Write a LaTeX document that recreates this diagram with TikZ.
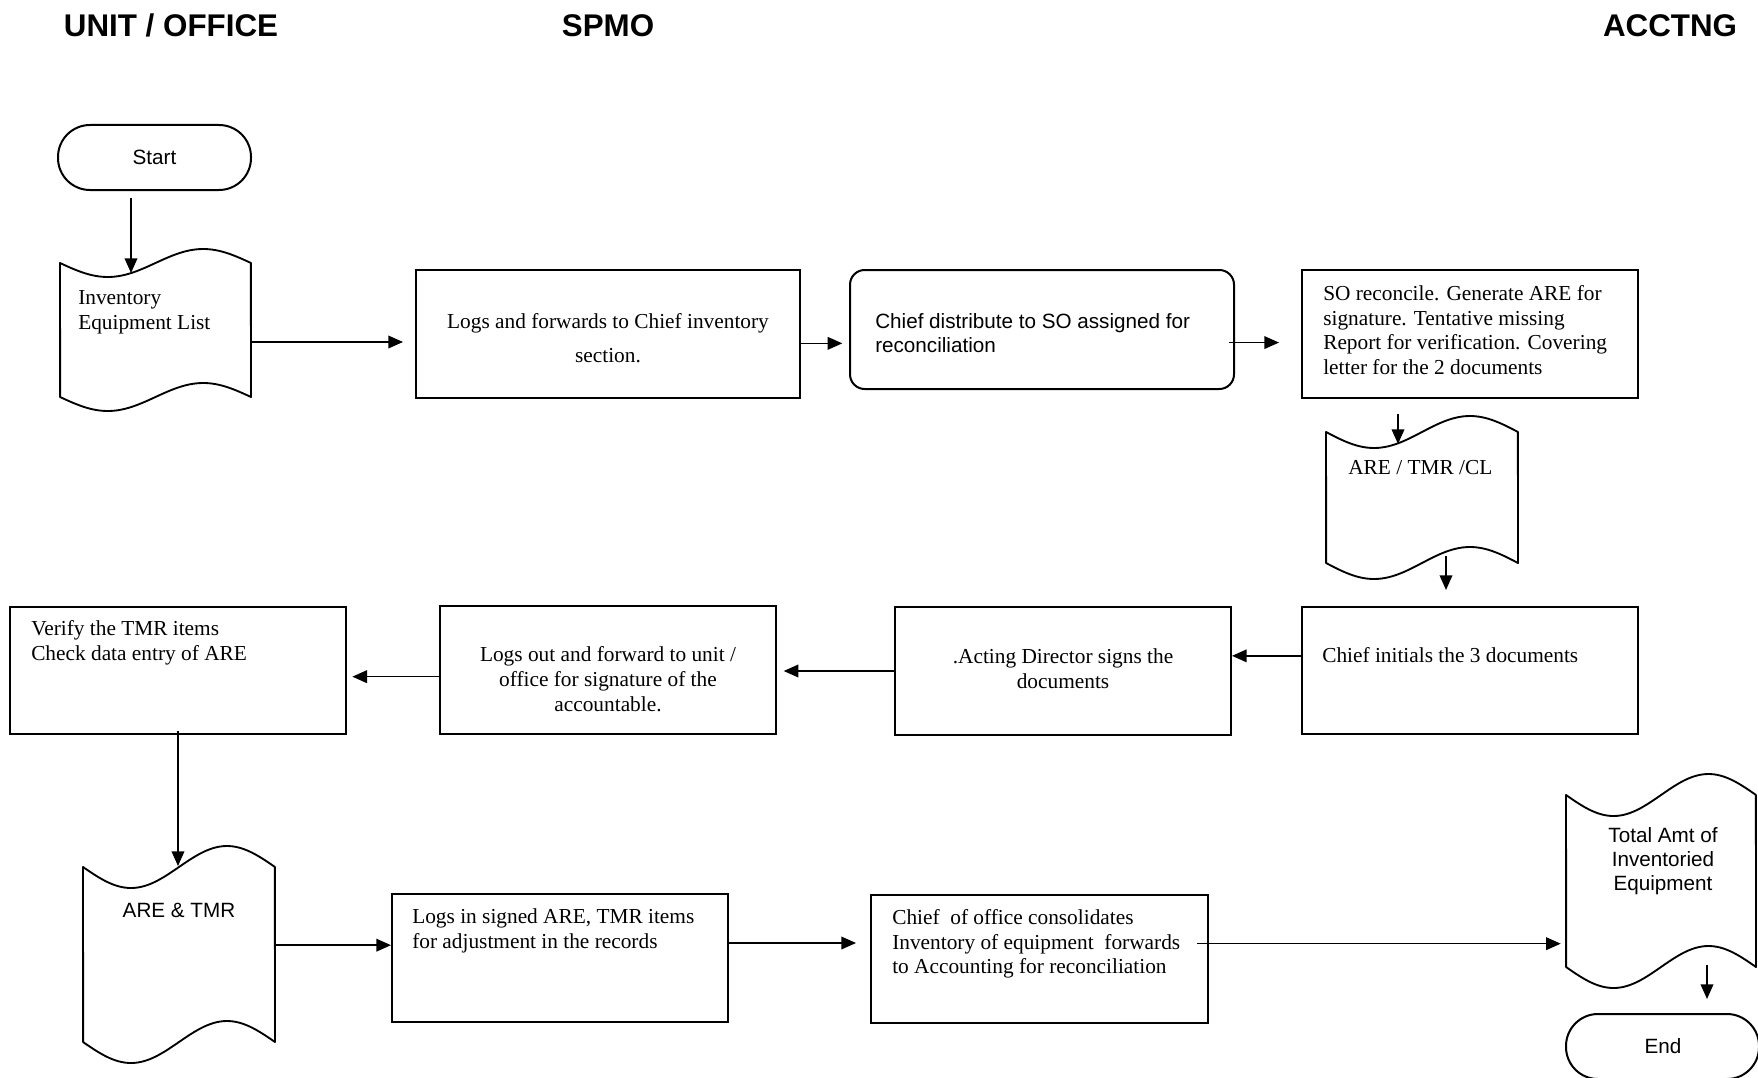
\documentclass[tikz,border=0pt]{standalone}
\usepackage{fontspec}
\setmainfont{Liberation Serif}
\newfontfamily\arialf{Liberation Sans}
\usetikzlibrary{arrows.meta,fit}

% punched-tape document shape: name, L, T, R, B, amplitude
\newcommand{\tapedoc}[6]{%
  \node[inner sep=0, fit={(#2,#3)(#4,#5)}] (#1) {};
  \draw[docline] plot[domain=0:1,samples=60] ({#2+(#4-#2)*\x},{#3+#6*sin(360*\x)})
     -- plot[domain=1:0,samples=60] ({#2+(#4-#2)*\x},{#5+#6*sin(360*\x)}) -- cycle;
}

\begin{document}
\begin{tikzpicture}[x=0.75pt,y=-0.75pt,
  box/.style={draw, line width=1.5pt, inner sep=0},
  rbox/.style={box, rounded corners=11pt},
  term/.style={draw, line width=1.5pt, inner sep=0, rounded corners=24pt},
  docline/.style={line width=1.4pt, line join=round},
  arr/.style={line width=1.1pt, -{Triangle[length=11pt,width=9.5pt]}},
  ser/.style={font=\fontsize{16}{18.5}\selectfont, inner sep=0},
  san/.style={font=\arialf\fontsize{15.5}{17.8}\selectfont, inner sep=0},
  hdr/.style={font=\arialf\bfseries\fontsize{23.5}{28}\selectfont, inner sep=0, anchor=base}
]
\useasboundingbox (0,0) rectangle (1758,1077);
\clip (0,0) rectangle (1758,1077);

% headers
\node[hdr] (h1) at (171,37) {UNIT / OFFICE};
\node[hdr] (h2) at (608,37) {SPMO};
\node[hdr] (h3) at (1670,37) {ACCTNG};

% row 1
\node[term, fit={(58,125)(251,190)}] (start) {};
\node[san] (startt) at (start.center) {Start};

\tapedoc{inv}{60}{263}{251}{397}{14}
\node[ser, anchor=west, align=left] (invt) at (78,312) {Inventory\\Equipment List};

\node[box, fit={(416,270)(800,398)}] (b1) {};
\node[ser, align=center, font=\fontsize{16}{25.5}\selectfont] (b1t) at (608,338) {Logs and forwards to Chief inventory\\section.};

\node[rbox, fit={(850,270)(1234,389)}] (b2) {};
\node[san, anchor=west, align=left] (b2t) at (875,333) {Chief distribute to SO assigned for\\reconciliation};

\node[box, fit={(1302,270)(1638,398)}] (b3) {};
\node[ser, anchor=west, align=left] (b3t) at (1323,330) {SO reconcile. Generate ARE for\\signature. Tentative missing\\Report for verification. Covering\\letter for the 2 documents};

\tapedoc{d2}{1326}{432}{1518}{563}{16}
\node[ser, anchor=west] (d2t) at (1348,468) {ARE / TMR /CL};

% row 2
\node[box, fit={(1302,607)(1638,734)}] (b4) {};
\node[ser, anchor=west] (b4t) at (1322,655) {Chief initials the 3 documents};

\node[box, fit={(895,607)(1231,735)}] (b5) {};
\node[ser, align=center] (b5t) at (1063,669) {.Acting Director signs the\\documents};

\node[box, fit={(440,606)(776,734)}] (b6) {};
\node[ser, align=center] (b6t) at (608,679) {Logs out and forward to unit /\\office for signature of the\\accountable.};

\node[box, fit={(10,607)(346,734)}] (b7) {};
\node[ser, anchor=west, align=left] (b7t) at (31,643) {Verify the TMR items\\Check data entry of ARE};

% row 3
\tapedoc{d3}{83}{867}{275}{1042}{21}
\node[san] (d3t) at (179,910) {ARE \& TMR};

\node[box, fit={(392,894)(728,1022)}] (b8) {};
\node[ser, anchor=west, align=left] (b8t) at (412,931) {Logs in signed ARE, TMR items\\for adjustment in the records};

\node[box, fit={(871,895)(1208,1023)}] (b9) {};
\node[ser, anchor=west, align=left] (b9t) at (892,944) {Chief\ \ of office consolidates\\Inventory of equipment\ \ forwards\\to Accounting for reconciliation};

\tapedoc{d4}{1566}{795}{1756}{967}{21}
\node[san, align=center] (d4t) at (1663,861) {Total Amt of\\Inventoried\\Equipment};

\node[term, fit={(1566,1014)(1759,1079)}] (end) {};
\node[san] (endt) at (1663,1046) {End};

% named connector ends
\coordinate (invin) at (131,273);
\coordinate (d2in) at (1398,444);
\coordinate (d2out) at (1446,556);
\coordinate (d3in) at (178,866);
\coordinate (d4out) at (1707,965);

% connectors
\draw[arr, shorten <=5pt] (start.south -| invin) -- (invin);
\draw[arr, shorten >=9pt] ([yshift=-9pt]inv.east) -- ([yshift=-9pt]inv.east -| b1.west);
\draw[arr, shorten >=5pt] ([yshift=-7pt]b1.east) -- ([yshift=-7pt]b1.east -| b2.west);
\draw[arr, shorten <=-4.5pt, shorten >=16.5pt] ([yshift=-9.8pt]b2.east) -- ([yshift=-9.8pt]b2.east -| b3.west);
\draw[arr, shorten <=11pt] (b3.south -| d2in) -- (d2in);
\draw[arr, shorten >=12pt] (d2out) -- (d2out |- b4.north);
\draw[arr] ([yshift=11pt]b4.west) -- ([yshift=11pt]b4.west -| b5.east);
\draw[arr, shorten >=5pt] (b5.west) -- (b5.west -| b6.east);
\draw[arr, shorten >=4pt] ([yshift=-5pt]b6.west) -- ([yshift=-5pt]b6.west -| b7.east);
\draw[arr, shorten <=-3pt] (b7.south -| d3in) -- (d3in);
\draw[arr] ([yshift=7pt]d3.east) -- ([yshift=7pt]d3.east -| b8.west);
\draw[arr, shorten >=10.5pt] ([yshift=11.25pt]b8.east) -- ([yshift=11.25pt]b8.east -| b9.west);
\draw[arr, shorten <=-9pt, shorten >=3.75pt] ([yshift=11.5pt]b9.east) -- ([yshift=11.5pt]b9.east -| d4.west);
\draw[arr, shorten >=10.5pt] (d4out) -- (d4out |- end.north);
\end{tikzpicture}
\end{document}
